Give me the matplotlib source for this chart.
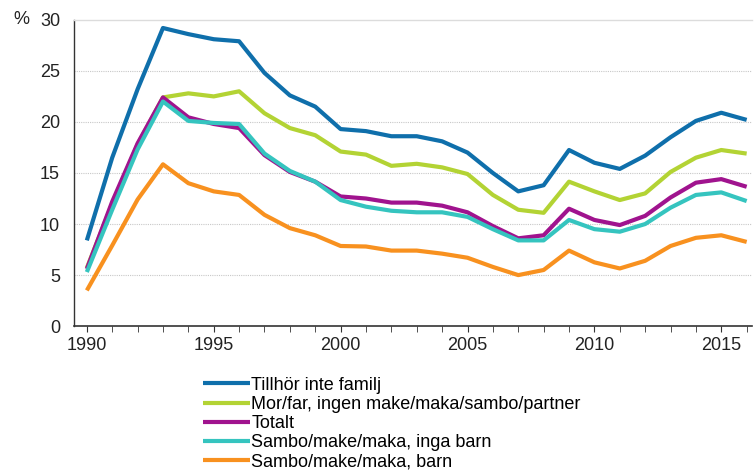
import matplotlib
matplotlib.use("Agg")
import matplotlib.pyplot as plt
from matplotlib.ticker import MultipleLocator

plt.rcParams["font.family"] = ["Liberation Sans", "DejaVu Sans"]

years = list(range(1990, 2017))

tillhor_inte = [8.4, 16.5, 23.2, 29.2, 28.6, 28.1, 27.9, 24.8, 22.6, 21.5, 19.3, 19.1,
                18.6, 18.6, 18.1, 17.0, 15.0, 13.2, 13.8, 17.25, 16.0, 15.4, 16.7,
                18.5, 20.1, 20.9, 20.2]
mor_far = [5.7, 12.0, 17.8, 22.4, 22.8, 22.5, 23.0, 20.85, 19.4, 18.7, 17.1, 16.8,
           15.7, 15.9, 15.55, 14.9, 12.85, 11.4, 11.1, 14.15, 13.2, 12.35, 13.0,
           15.1, 16.5, 17.25, 16.9]
totalt = [5.6, 12.2, 17.9, 22.4, 20.45, 19.8, 19.4, 16.75, 15.1, 14.15, 12.7, 12.5,
          12.1, 12.1, 11.8, 11.15, 9.8, 8.6, 8.9, 11.5, 10.4, 9.9, 10.8,
          12.6, 14.05, 14.4, 13.65]
sambo_inga_barn = [5.3, 11.4, 17.3, 22.0, 20.1, 19.9, 19.8, 16.9, 15.2, 14.15, 12.35, 11.7,
                   11.3, 11.15, 11.15, 10.7, 9.5, 8.4, 8.4, 10.4, 9.5, 9.25, 10.0,
                   11.6, 12.85, 13.1, 12.25]
sambo_barn = [3.5, 7.9, 12.4, 15.85, 14.0, 13.2, 12.85, 10.9, 9.6, 8.9, 7.85, 7.8,
              7.4, 7.4, 7.1, 6.7, 5.8, 5.0, 5.5, 7.4, 6.25, 5.65, 6.4,
              7.85, 8.65, 8.9, 8.25]

series = [
    ("Tillhör inte familj", tillhor_inte, "#0f6fab"),
    ("Mor/far, ingen make/maka/sambo/partner", mor_far, "#b3d334"),
    ("Totalt", totalt, "#a0138e"),
    ("Sambo/make/maka, inga barn", sambo_inga_barn, "#35c4bf"),
    ("Sambo/make/maka, barn", sambo_barn, "#f8911f"),
]


def main():
    fig = plt.figure(figsize=(7.54, 4.72), dpi=100)
    ax = fig.add_axes([0.098, 0.309, 0.899, 0.649])

    for label, values, color in series:
        ax.plot(years, values, color=color, linewidth=3, label=label,
                solid_joinstyle="round", solid_capstyle="butt")

    ax.set_xlim(1989.49, 2016.2)
    ax.set_ylim(0, 30)
    ax.yaxis.set_major_locator(MultipleLocator(5))
    ax.xaxis.set_major_locator(MultipleLocator(5))
    ax.xaxis.set_minor_locator(MultipleLocator(1))

    for v in range(5, 30, 5):
        ax.axhline(v, color="#c8c8c8", linewidth=0.8, linestyle=(0, (1, 1)),
                   zorder=0)

    ax.spines["right"].set_visible(False)
    ax.spines["top"].set_color("#dcdcdc")
    ax.spines["top"].set_linewidth(1.0)
    ax.spines["left"].set_color("#333333")
    ax.spines["bottom"].set_color("#333333")
    ax.spines["left"].set_linewidth(1.0)
    ax.spines["bottom"].set_linewidth(1.2)

    ax.tick_params(axis="y", length=0, pad=10, labelsize=13, labelcolor="#222222")
    ax.tick_params(axis="x", which="both", direction="out", length=4,
                   color="#333333", labelsize=13, labelcolor="#222222", pad=4)

    fig.text(0.018, 0.958, "%", fontsize=13, color="#222222", va="center")

    ax.legend(loc="upper left", bbox_to_anchor=(0.19, -0.165), frameon=False,
              fontsize=13, handlelength=2.6, handletextpad=0.1,
              labelspacing=0.12, borderpad=0, borderaxespad=0)

    fig.savefig("out.png", dpi=100, facecolor="white")
    plt.close(fig)


if __name__ == "__main__":
    main()
